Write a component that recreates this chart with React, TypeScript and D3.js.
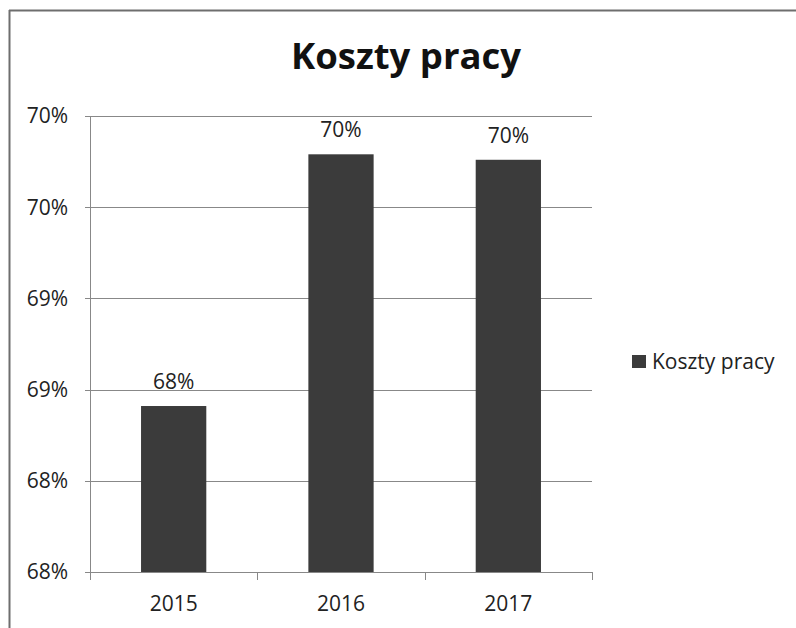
import React from "react";
import * as d3 from "d3";

const title = "Koszty pracy";
const seriesName = "Koszty pracy";
const categories = ["2015", "2016", "2017"];
const values = [68.41, 69.79, 69.76];
const yTicks = [67.5, 68.0, 68.5, 69.0, 69.5, 70.0];

const W = 796;
const H = 628;
const FONT = "'Open Sans', 'Noto Sans', sans-serif";

export default function App() {
  const margin = { left: 90, right: 796 - 592, top: 116, bottom: 628 - 572 };
  const x = d3
    .scaleBand<string>()
    .domain(categories)
    .range([margin.left, W - margin.right])
    .paddingInner(0.61)
    .paddingOuter(0.305);
  const xOuter = d3.scaleBand<string>().domain(categories).range([margin.left, W - margin.right]);
  const y = d3.scaleLinear().domain([67.5, 70]).range([H - margin.bottom, margin.top]);
  const fmt = (v: number) => `${Math.round(v + 1e-9)}%`;
  const x0 = margin.left;
  const x1 = W - margin.right;
  const yb = H - margin.bottom;
  const catBounds = [...categories.map((c) => xOuter(c) as number), x1];

  return (
    <svg
      width={W}
      height={H}
      style={{ position: "absolute", left: 0, top: 0, background: "#fff" }}
      fontFamily={FONT}
    >
      <rect x={0} y={0} width={W} height={H} fill="#fff" />
      {/* chart border */}
      <line x1={9} y1={10.5} x2={W} y2={10.5} stroke="#6e6e6e" strokeWidth={2} />
      <line x1={9.5} y1={10} x2={9.5} y2={H} stroke="#6e6e6e" strokeWidth={2} />

      <text x={406} y={69} textAnchor="middle" fontSize={36.5} fontWeight={700} fill="#111">
        {title}
      </text>

      {/* gridlines */}
      {yTicks.map((t) => (
        <line key={t} x1={x0 - 5} x2={x1} y1={Math.round(y(t)) + 0.5} y2={Math.round(y(t)) + 0.5} stroke="#888" strokeWidth={1} />
      ))}
      {/* y axis */}
      <line x1={x0 + 0.5} x2={x0 + 0.5} y1={y(70)} y2={yb} stroke="#888" />
      {yTicks.map((t) => (
        <text key={"l" + t} x={68} y={y(t)} dy="0.35em" textAnchor="end" fontSize={21} fill="#222">
          {fmt(t)}
        </text>
      ))}

      {/* bars */}
      {categories.map((c, i) => (
        <rect
          key={c}
          x={x(c)}
          y={y(values[i])}
          width={x.bandwidth()}
          height={yb - y(values[i])}
          fill="#3b3b3b"
        />
      ))}
      {categories.map((c, i) => (
        <text
          key={"v" + c}
          x={(x(c) as number) + x.bandwidth() / 2}
          y={y(values[i]) - 17}
          textAnchor="middle"
          fontSize={21}
          fill="#222"
        >
          {fmt(values[i])}
        </text>
      ))}

      {/* x axis */}
      <line x1={x0} x2={x1} y1={yb + 0.5} y2={yb + 0.5} stroke="#888" />
      {catBounds.map((b, i) => (
        <line key={"t" + i} x1={Math.round(b) + 0.5} x2={Math.round(b) + 0.5} y1={yb} y2={yb + 8} stroke="#888" />
      ))}
      {categories.map((c) => (
        <text key={"x" + c} x={(x(c) as number) + x.bandwidth() / 2} y={611} textAnchor="middle" fontSize={21} fill="#222">
          {c}
        </text>
      ))}

      {/* legend */}
      <rect x={632} y={355} width={14} height={13} fill="#3b3b3b" />
      <text x={652} y={369} fontSize={21} fill="#222">
        {seriesName}
      </text>
    </svg>
  );
}
